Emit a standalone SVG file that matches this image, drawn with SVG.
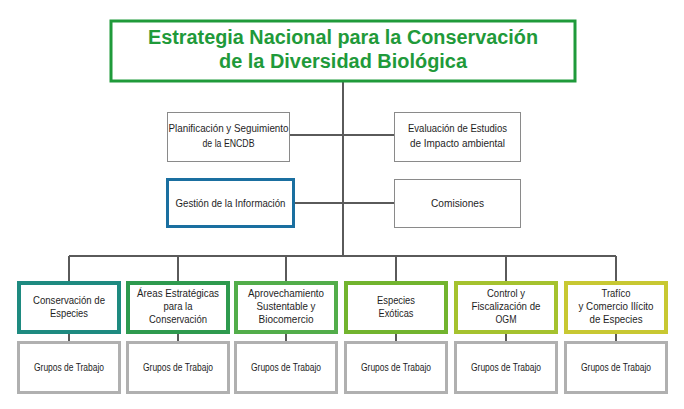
<svg xmlns="http://www.w3.org/2000/svg" width="684" height="409" viewBox="0 0 684 409">
<style>
text{font-family:"Liberation Sans",Arial,sans-serif;fill:#1e1e1e;text-anchor:middle;font-size:10.5px}
.title{font-size:19.5px;font-weight:bold;fill:#1f9a3a}
.conn{stroke:#5a5a5a;stroke-width:2;fill:none}
.gray{fill:#fff;stroke:#8a8a8a;stroke-width:1}
.grp{fill:#fff;stroke:#b0b0b0;stroke-width:3}
.col{fill:#fff;stroke-width:4}
</style>
<rect width="684" height="409" fill="#fff"/>
<g id="connectors" class="conn">
<path d="M343 82V256M290 135H394M295 203H394M69 256H616"/>
<path d="M69 256V281M178 256V281M286 256V281M396 256V281M506 256V281M616 256V281"/>
<path d="M69 334V341M178 334V341M286 334V341M396 334V341M506 334V341M616 334V341"/>
</g>
<g id="root">
<rect x="111" y="21" width="464" height="60" fill="#fff" stroke="#1f9a3a" stroke-width="3"/>
<text class="title" x="343" y="44" textLength="390" lengthAdjust="spacingAndGlyphs">Estrategia Nacional para la Conservación</text>
<text class="title" x="343" y="68" textLength="248" lengthAdjust="spacingAndGlyphs">de la Diversidad Biológica</text>
</g>
<g id="planificacion">
<rect class="gray" x="167.5" y="112.5" width="122" height="49"/>
<text x="228.5" y="132" textLength="120" lengthAdjust="spacingAndGlyphs">Planificación y Seguimiento</text>
<text x="228.5" y="147" textLength="52" lengthAdjust="spacingAndGlyphs">de la ENCDB</text>
</g>
<g id="evaluacion">
<rect class="gray" x="394.5" y="112.5" width="126" height="49"/>
<text x="457.5" y="132" textLength="99" lengthAdjust="spacingAndGlyphs">Evaluación de Estudios</text>
<text x="457.5" y="147" textLength="95" lengthAdjust="spacingAndGlyphs">de Impacto ambiental</text>
</g>
<g id="gestion">
<rect x="167.5" y="179.5" width="126" height="47" fill="#fff" stroke="#1a6fa0" stroke-width="3"/>
<text x="230.5" y="207" textLength="110" lengthAdjust="spacingAndGlyphs">Gestión de la Información</text>
</g>
<g id="comisiones">
<rect class="gray" x="394.5" y="179.5" width="126" height="48"/>
<text x="457.5" y="207" textLength="53" lengthAdjust="spacingAndGlyphs">Comisiones</text>
</g>
<g id="conservacion">
<rect class="col" x="19" y="283" width="100" height="49" stroke="#1e8a80"/>
<text x="69" y="304" textLength="72" lengthAdjust="spacingAndGlyphs">Conservación de</text>
<text x="69" y="317" textLength="38" lengthAdjust="spacingAndGlyphs">Especies</text>
</g>
<g id="areas">
<rect class="col" x="128" y="283" width="100" height="49" stroke="#2e9a4e"/>
<text x="178" y="297" textLength="82" lengthAdjust="spacingAndGlyphs">Áreas Estratégicas</text>
<text x="178" y="310" textLength="29" lengthAdjust="spacingAndGlyphs">para la</text>
<text x="178" y="323" textLength="58" lengthAdjust="spacingAndGlyphs">Conservación</text>
</g>
<g id="aprovechamiento">
<rect class="col" x="236" y="283" width="100" height="49" stroke="#52ad4a"/>
<text x="286" y="297" textLength="76" lengthAdjust="spacingAndGlyphs">Aprovechamiento</text>
<text x="286" y="310" textLength="59" lengthAdjust="spacingAndGlyphs">Sustentable y</text>
<text x="286" y="323" textLength="55" lengthAdjust="spacingAndGlyphs">Biocomercio</text>
</g>
<g id="exoticas">
<rect class="col" x="346" y="283" width="100" height="49" stroke="#72b42e"/>
<text x="396" y="304" textLength="38" lengthAdjust="spacingAndGlyphs">Especies</text>
<text x="396" y="317" textLength="35" lengthAdjust="spacingAndGlyphs">Exóticas</text>
</g>
<g id="control">
<rect class="col" x="456" y="283" width="100" height="49" stroke="#a5c22e"/>
<text x="506" y="297" textLength="38" lengthAdjust="spacingAndGlyphs">Control y</text>
<text x="506" y="310" textLength="69" lengthAdjust="spacingAndGlyphs">Fiscalización de</text>
<text x="506" y="323" textLength="21" lengthAdjust="spacingAndGlyphs">OGM</text>
</g>
<g id="trafico">
<rect class="col" x="566" y="283" width="100" height="49" stroke="#c8c832"/>
<text x="616" y="297" textLength="29" lengthAdjust="spacingAndGlyphs">Trafíco</text>
<text x="616" y="310" textLength="75" lengthAdjust="spacingAndGlyphs">y Comercio Ilícito</text>
<text x="616" y="323" textLength="53" lengthAdjust="spacingAndGlyphs">de Especies</text>
</g>
<g id="grupos1"><rect class="grp" x="18.5" y="342.5" width="101" height="50"/><text x="69" y="371" textLength="70" lengthAdjust="spacingAndGlyphs">Grupos de Trabajo</text></g>
<g id="grupos2"><rect class="grp" x="127.5" y="342.5" width="101" height="50"/><text x="178" y="371" textLength="70" lengthAdjust="spacingAndGlyphs">Grupos de Trabajo</text></g>
<g id="grupos3"><rect class="grp" x="235.5" y="342.5" width="101" height="50"/><text x="286" y="371" textLength="70" lengthAdjust="spacingAndGlyphs">Grupos de Trabajo</text></g>
<g id="grupos4"><rect class="grp" x="345.5" y="342.5" width="101" height="50"/><text x="396" y="371" textLength="70" lengthAdjust="spacingAndGlyphs">Grupos de Trabajo</text></g>
<g id="grupos5"><rect class="grp" x="455.5" y="342.5" width="101" height="50"/><text x="506" y="371" textLength="70" lengthAdjust="spacingAndGlyphs">Grupos de Trabajo</text></g>
<g id="grupos6"><rect class="grp" x="565.5" y="342.5" width="101" height="50"/><text x="616" y="371" textLength="70" lengthAdjust="spacingAndGlyphs">Grupos de Trabajo</text></g>
</svg>
